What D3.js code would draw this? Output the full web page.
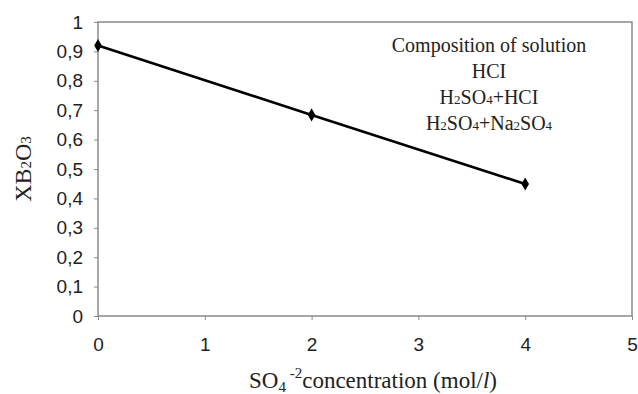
<!DOCTYPE html>
<html>
<head>
<meta charset="utf-8">
<script src="https://cdn.jsdelivr.net/npm/d3@7"></script>
<style>
  body { margin: 0; background: #fff; }
  svg { display: block; }
</style>
</head>
<body>
<script>
var w = 638
var h = 394

// data
var concentration = [0, 2, 4]
var xb2o3 = [0.92, 0.684, 0.449]
var xTicks = [0, 1, 2, 3, 4, 5]
var yTicks = [0, 0.1, 0.2, 0.3, 0.4, 0.5, 0.6, 0.7, 0.8, 0.9, 1]
var legendLines = [
  [["Composition of solution", false]],
  [["HCI", false]],
  [["H", false], ["2", true], ["SO", false], ["4", true], ["+HCI", false]],
  [["H", false], ["2", true], ["SO", false], ["4", true], ["+Na", false], ["2", true], ["SO", false], ["4", true]]
]

var margin = {left: 98, top: 22, right: 6, bottom: 78}

var svg = d3.select("body").append("svg")
  .attr("width", w)
  .attr("height", h)

var x = d3.scaleLinear().domain([0, 5]).range([margin.left, w - margin.right])
var y = d3.scaleLinear().domain([0, 1]).range([h - margin.bottom, margin.top])

var grey = "#8a8a8a"
var sans = "Liberation Sans, Arial, sans-serif"
var serif = "Liberation Serif, Times New Roman, serif"

// plot frame
svg.append("rect")
  .attr("x", x(0)).attr("y", y(1))
  .attr("width", x(5) - x(0)).attr("height", y(0) - y(1))
  .attr("fill", "none").attr("stroke", grey).attr("stroke-width", 1.5)

// y axis
var yAxis = svg.append("g")
  .attr("transform", "translate(" + x(0) + ",0)")
  .call(d3.axisLeft(y).tickValues(yTicks).tickSize(4).tickPadding(11).tickFormat(function(d) {
    return d === 0 ? "0" : d === 1 ? "1" : d.toFixed(1).replace(".", ",")
  }))
yAxis.select(".domain").remove()
yAxis.selectAll("line").attr("stroke", grey)
yAxis.selectAll("text")
  .attr("font-family", sans)
  .attr("font-size", "19px")
  .attr("fill", "#222")

// x axis
var xAxis = svg.append("g")
  .attr("transform", "translate(0," + y(0) + ")")
  .call(d3.axisBottom(x).tickValues(xTicks).tickSize(4).tickPadding(18).tickFormat(d3.format("d")))
xAxis.select(".domain").remove()
xAxis.selectAll("line").attr("stroke", grey)
xAxis.selectAll("text")
  .attr("font-family", sans)
  .attr("font-size", "19px")
  .attr("fill", "#222")

// line + markers
var pts = concentration.map(function(c, i) { return [c, xb2o3[i]] })
svg.append("path")
  .datum(pts)
  .attr("d", d3.line().x(function(d) { return x(d[0]) }).y(function(d) { return y(d[1]) }))
  .attr("fill", "none").attr("stroke", "#000").attr("stroke-width", 2.6)

svg.selectAll(".mk")
  .data(pts)
  .enter().append("path")
  .attr("class", "mk")
  .attr("d", d3.symbol().type(d3.symbolDiamond).size(50))
  .attr("transform", function(d) { return "translate(" + x(d[0]) + "," + y(d[1]) + ")" })
  .attr("fill", "#000")

// annotation
var ann = svg.append("g")
legendLines.forEach(function(parts, i) {
  var t = ann.append("text")
    .attr("x", 489).attr("y", 52 + i * 26)
    .attr("text-anchor", "middle")
    .attr("font-family", serif)
    .attr("font-size", "20px")
    .attr("fill", "#222")
  parts.forEach(function(p) {
    t.append("tspan").text(p[0]).attr("font-size", p[1] ? "13px" : "20px")
  })
})

// axis titles
var yt = svg.append("text")
  .attr("transform", "translate(31," + ((y(0) + y(1)) / 2) + ") rotate(-90)")
  .attr("text-anchor", "middle")
  .attr("font-family", serif)
  .attr("font-size", "24px")
  .attr("fill", "#222")
yt.append("tspan").text("XB")
yt.append("tspan").text("2").attr("font-size", "15px")
yt.append("tspan").text("O")
yt.append("tspan").text("3").attr("font-size", "15px")

var xt = svg.append("text")
  .attr("x", (x(0) + x(5)) / 2 + 8).attr("y", 388)
  .attr("text-anchor", "middle")
  .attr("font-family", serif)
  .attr("font-size", "23px")
  .attr("fill", "#222")
xt.append("tspan").text("SO")
xt.append("tspan").text("4").attr("font-size", "15px").attr("dy", 4)
xt.append("tspan").text(" -2").attr("font-size", "15px").attr("dy", -14)
xt.append("tspan").text("concentration (mol/").attr("dy", 10)
xt.append("tspan").text("l").attr("font-style", "italic")
xt.append("tspan").text(")")
</script>
</body>
</html>
